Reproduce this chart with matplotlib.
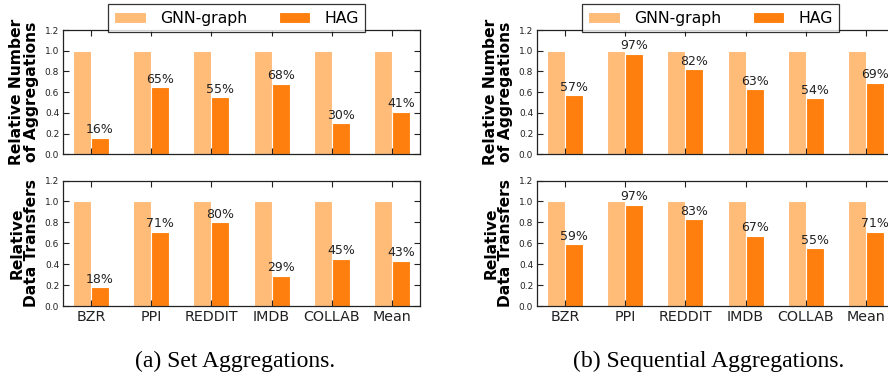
import matplotlib
matplotlib.use("Agg")
from matplotlib import pyplot as plt
import numpy as np

datasets = ["BZR", "PPI", "REDDIT", "IMDB", "COLLAB", "Mean"]
series_names = ["GNN-graph", "HAG"]

# GNN-graph is the baseline (1.0), HAG values in percent
set_aggr = [16, 65, 55, 68, 30, 41]
set_transfer = [18, 71, 80, 29, 45, 43]
seq_aggr = [57, 97, 82, 63, 54, 69]
seq_transfer = [59, 97, 83, 67, 55, 71]

yticks = [0.0, 0.2, 0.4, 0.6, 0.8, 1.0, 1.2]
ylabels = ["Relative Number\nof Aggregations", "Relative\nData Transfers"]
captions = ["(a) Set Aggregations.", "(b) Sequential Aggregations."]

LIGHT = "#ffbb78"
DARK = "#ff7f0e"
BAR_W = 0.3


def draw_panel(ax, hag, ylabel, show_xlabels):
    x = np.arange(len(datasets))
    base = np.ones(len(datasets))
    vals = np.array(hag) / 100.0
    ax.bar(x - BAR_W / 2, base, BAR_W, color=LIGHT, edgecolor="white", linewidth=0.8, label=series_names[0])
    ax.bar(x + BAR_W / 2, vals, BAR_W, color=DARK, edgecolor="white", linewidth=0.8, label=series_names[1])
    for xi, v, p in zip(x, vals, hag):
        ax.text(xi + BAR_W / 2, v + 0.015, f"{p}%", ha="center", va="bottom", fontsize=9, color="#222222")
    ax.set_xlim(-0.46, 5.47)
    ax.set_ylim(0, 1.2)
    ax.set_yticks(yticks)
    ax.set_yticklabels([f"{t:.1f}" for t in yticks], fontsize=6.5)
    ax.set_xticks(x)
    if show_xlabels:
        ax.set_xticklabels(datasets, fontsize=10.3)
    else:
        ax.set_xticklabels([])
    ax.tick_params(direction="in", length=4, width=0.8, top=True, right=True, pad=3, colors="#222222")
    for s in ax.spines.values():
        s.set_color("#222222")
        s.set_linewidth(0.9)
    ax.set_ylabel(ylabel, fontsize=11.2, fontweight="bold", labelpad=4, linespacing=1.0)


fig = plt.figure(figsize=(8.88, 3.76), dpi=100)
W, H = 888.0, 376.0

panels = [(set_aggr, set_transfer), (seq_aggr, seq_transfer)]
lefts = [63.3, 537.3]
for i, (top_vals, bot_vals) in enumerate(panels):
    left = lefts[i] / W
    width = (420.3 - 63.3) / W
    ax1 = fig.add_axes([left, 1 - 154.5 / H, width, (154.5 - 30) / H])
    ax2 = fig.add_axes([left, 1 - 306 / H, width, (306 - 180.5) / H])
    draw_panel(ax1, top_vals, ylabels[0], False)
    draw_panel(ax2, bot_vals, ylabels[1], True)
    leg = ax1.legend(loc="lower center", bbox_to_anchor=(0.485, 0.985), ncol=2, fontsize=11.3,
                     frameon=True, fancybox=False, borderaxespad=0, handlelength=2.0,
                     columnspacing=2.0, handletextpad=0.9)
    leg.get_frame().set_edgecolor("black")
    leg.get_frame().set_linewidth(0.9)
    cx = (lefts[i] + (420.3 - 63.3) / 2 - 7) / W
    fig.text(cx, 1 - 361 / H, captions[i], ha="center", va="center",
             fontsize=17, family="Liberation Serif")

fig.savefig("out.png", dpi=100)
